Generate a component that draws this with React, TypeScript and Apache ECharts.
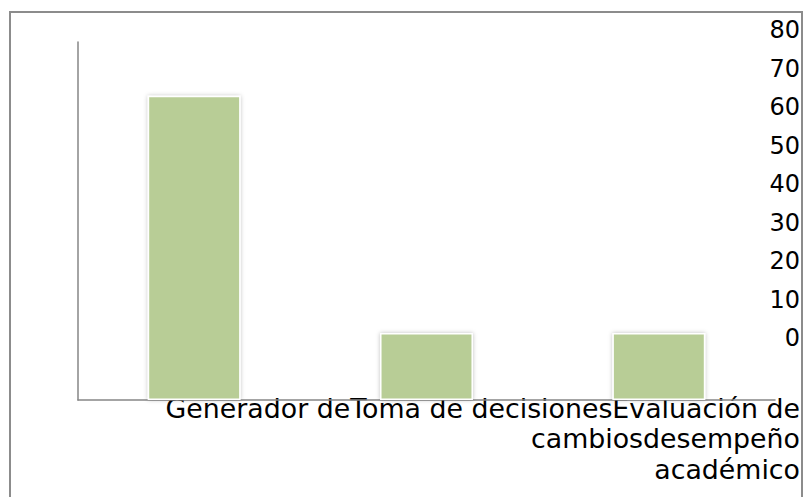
import React, { useEffect, useRef } from "react";
import * as echarts from "echarts";

const categoryLines: string[][] = [
  ["Generador de", "cambios"],
  ["Toma de decisiones"],
  ["Evaluación de", "desempeño", "académico"],
];
const categories = categoryLines.map((l) => l.join(" "));
const values = [68, 15, 15];
const yMin = 0;
const yMax = 80;
const yInterval = 10;

const FONT = "DejaVu Sans";

function composedLabel(): string {
  const maxLines = Math.max(...categoryLines.map((l) => l.length));
  const out: string[] = [];
  for (let i = 0; i < maxLines; i++) {
    out.push(categoryLines.map((l) => l[i] ?? "").join(""));
  }
  return out.join("\n");
}

export default function App() {
  const ref = useRef<HTMLDivElement>(null);
  useEffect(() => {
    if (!ref.current) return;
    const chart = echarts.init(ref.current, undefined, { renderer: "svg" });
    chart.setOption({
      animation: false,
      backgroundColor: "#fff",
      grid: [
        { left: 78, right: 30, top: 42, height: 358 },
        { left: 700, right: 5, top: 30, height: 308 },
      ],
      xAxis: [
        {
          type: "category",
          gridIndex: 0,
          data: categories,
          axisLine: { show: true, lineStyle: { color: "#868686", width: 1.5 } },
          axisTick: { show: false },
          axisLabel: { show: false },
        },
        {
          type: "category",
          gridIndex: 1,
          data: categories,
          show: false,
        },
      ],
      yAxis: [
        {
          type: "value",
          gridIndex: 0,
          min: yMin,
          max: yMax,
          interval: yInterval,
          axisLine: { show: true, lineStyle: { color: "#868686", width: 1.5 } },
          axisTick: { show: false },
          axisLabel: { show: false },
          splitLine: { show: false },
        },
        {
          type: "value",
          gridIndex: 1,
          position: "right",
          min: yMin,
          max: yMax,
          interval: yInterval,
          axisLine: { show: false },
          axisTick: { show: false },
          splitLine: { show: false },
          axisLabel: {
            inside: true,
            margin: 0,
            color: "#000",
            fontSize: 24,
            fontFamily: FONT,
          },
        },
      ],
      series: [
        {
          type: "bar",
          xAxisIndex: 0,
          yAxisIndex: 0,
          data: values,
          barWidth: "40%",
          itemStyle: {
            color: "#B8CD96",
            borderColor: "#ffffff",
            borderWidth: 1.5,
            shadowBlur: 4,
            shadowColor: "rgba(0,0,0,0.25)",
          },
        },
        {
          type: "bar",
          xAxisIndex: 1,
          yAxisIndex: 1,
          data: [],
        },
      ],
      graphic: [
        {
          type: "rect",
          shape: { x: 10, y: 12, width: 792, height: 500 },
          style: { fill: "none", stroke: "#8c8c8c", lineWidth: 2 },
          silent: true,
        },
        {
          type: "text",
          x: 800,
          y: 393,
          style: {
            text: composedLabel(),
            fill: "#000",
            fontSize: 26.8,
            fontFamily: FONT,
            lineHeight: 30.5,
            align: "right",
            verticalAlign: "top",
          },
        },
      ],
    });
    return () => chart.dispose();
  }, []);
  return (
    <div
      ref={ref}
      style={{ position: "fixed", left: 0, top: 0, width: 805, height: 497 }}
    />
  );
}
